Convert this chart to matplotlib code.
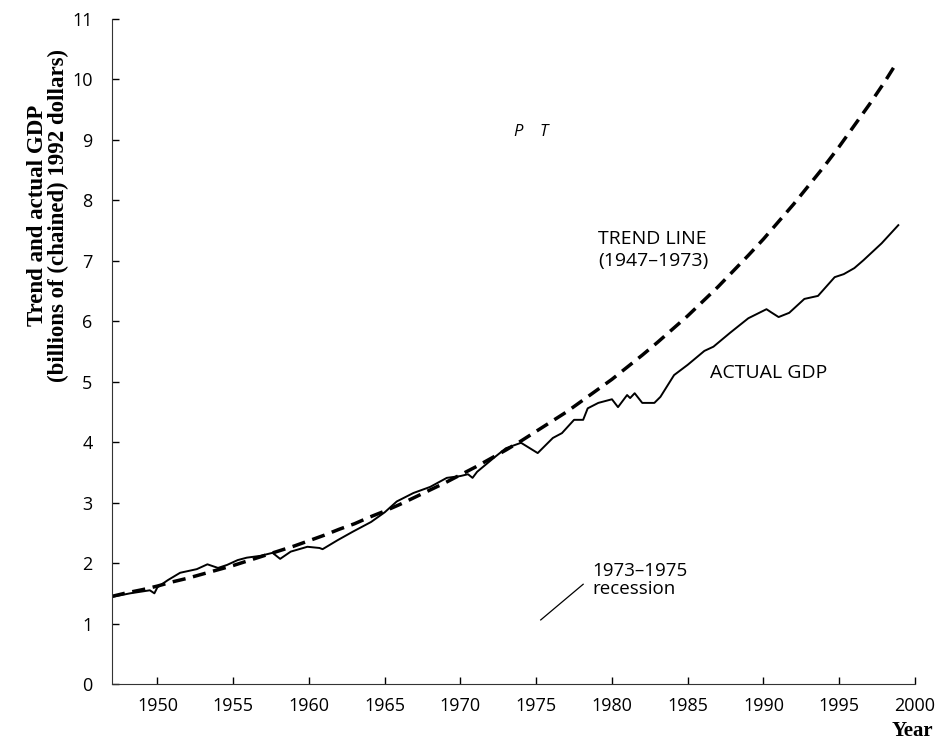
import matplotlib
matplotlib.use("Agg")
import matplotlib.pyplot as plt

# trend line 1947-1973 extrapolated
trend_years = [1947, 1948, 1949, 1950, 1951, 1952, 1953, 1954, 1955, 1956,
               1957, 1958, 1959, 1960, 1961, 1962, 1963, 1964, 1965, 1966,
               1967, 1968, 1969, 1970, 1971, 1972, 1973, 1974, 1975, 1976,
               1977, 1978, 1979, 1980, 1981, 1982, 1983, 1984, 1985, 1986,
               1987, 1988, 1989, 1990, 1991, 1992, 1993, 1994, 1995, 1996,
               1997, 1998, 1998.7]
trend_gdp = [1.45, 1.51, 1.56, 1.62, 1.69, 1.75, 1.82, 1.89, 1.96, 2.04,
             2.12, 2.20, 2.28, 2.37, 2.46, 2.56, 2.65, 2.76, 2.86, 2.97,
             3.09, 3.21, 3.33, 3.46, 3.59, 3.73, 3.87, 4.02, 4.18, 4.34,
             4.50, 4.68, 4.86, 5.04, 5.24, 5.44, 5.65, 5.87, 6.09, 6.33,
             6.57, 6.83, 7.09, 7.36, 7.65, 7.94, 8.25, 8.56, 8.89, 9.24,
             9.59, 9.96, 10.24]

# actual GDP
actual_years = [1947.0, 1948.2, 1949.5, 1949.8, 1950.0, 1950.7, 1951.5, 1952.6,
                1953.3, 1954.0, 1954.6, 1955.3, 1955.9, 1956.8, 1957.6, 1958.1,
                1958.8, 1959.9, 1960.7, 1960.9, 1961.9, 1962.9, 1964.1, 1965.0,
                1965.8, 1966.9, 1968.0, 1969.1, 1970.0, 1970.5, 1970.8, 1971.1,
                1972.2, 1973.0, 1974.0, 1975.1, 1976.1, 1976.7, 1977.5, 1978.1,
                1978.4, 1979.1, 1980.0, 1980.4, 1981.0, 1981.2, 1981.5, 1982.0,
                1982.8, 1983.2, 1984.1, 1985.0, 1986.1, 1986.7, 1987.8, 1989.0,
                1990.2, 1990.5, 1991.0, 1991.7, 1992.7, 1993.6, 1994.7, 1995.3,
                1996.0, 1996.6, 1997.8, 1998.9]
actual_gdp = [1.44, 1.50, 1.55, 1.50, 1.60, 1.72, 1.84, 1.90,
              1.98, 1.92, 1.97, 2.05, 2.09, 2.12, 2.17, 2.07,
              2.19, 2.27, 2.25, 2.23, 2.38, 2.52, 2.68, 2.84,
              3.02, 3.16, 3.26, 3.41, 3.44, 3.47, 3.41, 3.51,
              3.74, 3.90, 3.99, 3.82, 4.07, 4.15, 4.37, 4.37,
              4.56, 4.65, 4.71, 4.58, 4.78, 4.73, 4.81, 4.65,
              4.65, 4.75, 5.11, 5.28, 5.51, 5.58, 5.81, 6.05,
              6.20, 6.15, 6.07, 6.14, 6.37, 6.42, 6.73, 6.78,
              6.88, 7.01, 7.29, 7.59]

x_ticks = [1950, 1955, 1960, 1965, 1970, 1975, 1980, 1985, 1990, 1995, 2000]
y_ticks = list(range(0, 12))

sans = "Open Sans"
serif = "Liberation Serif"

fig = plt.figure(figsize=(9.52, 7.43), dpi=100)
ax = fig.add_axes([0.1176, 0.0794, 0.8435, 0.895])

ax.plot(trend_years, trend_gdp, color="black", lw=2.5, dashes=(3.8, 2.2))
ax.plot(actual_years, actual_gdp, color="black", lw=1.4)

ax.set_xlim(1947, 2000)
ax.set_ylim(0, 11)
ax.set_xticks(x_ticks)
ax.set_yticks(y_ticks)
ax.tick_params(direction="in", length=5, width=1, labelsize=13)
ax.tick_params(axis="x", pad=9)
ax.tick_params(axis="y", pad=14)
for lab in ax.get_xticklabels() + ax.get_yticklabels():
    lab.set_fontfamily(sans)

ax.spines["top"].set_visible(False)
ax.spines["right"].set_visible(False)
ax.spines["left"].set_color("#333333")
ax.spines["bottom"].set_color("#333333")

# annotations
ax.text(1979.1, 7.18, "TREND LINE\n(1947\u20131973)", fontsize=14, family=sans,
        ha="left", va="center", linespacing=1.3)
ax.text(1986.5, 5.15, "ACTUAL GDP", fontsize=14, family=sans, ha="left", va="center")
ax.text(1978.7, 1.72, "1973\u20131975\nrecession", fontsize=13.5, family=sans,
        ha="left", va="center", linespacing=1.05)
ax.plot([1975.3, 1978.1], [1.06, 1.65], color="black", lw=0.9)
ax.text(1973.8, 9.13, "P", fontsize=12, family=sans, style="italic", ha="center", va="center")
ax.text(1975.5, 9.13, "T", fontsize=12, family=sans, style="italic", ha="center", va="center")

fig.text(0.05, 1 - 215 / 743, "Trend and actual GDP\n(billions of (chained) 1992 dollars)",
         rotation=90, ha="center", va="center", fontsize=16.5, family=serif,
         fontweight="bold", linespacing=1.0)
fig.text(0.958, 0.016, "Year", ha="center", va="center", fontsize=15,
         family=serif, fontweight="bold")

fig.savefig("out.png", dpi=100)
